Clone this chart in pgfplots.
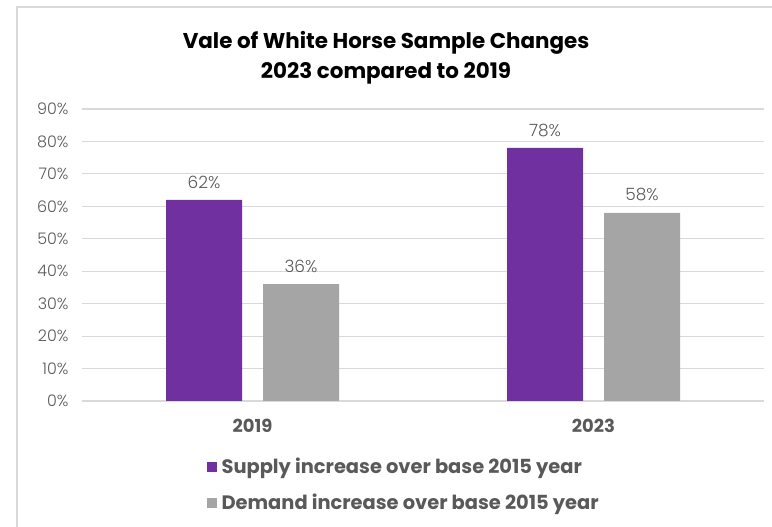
\documentclass[border=0pt]{standalone}
\usepackage{fontspec}
\setmainfont{Poppins}
\newfontfamily\lightfont{Poppins Light}
\usepackage{pgfplots}
\pgfplotsset{compat=1.18}
\definecolor{cpurple}{HTML}{7030A0}
\definecolor{cgray}{HTML}{A5A5A5}
\definecolor{ctext}{HTML}{595959}
\definecolor{cgrid}{HTML}{D9D9D9}
\begin{document}
\begin{tikzpicture}
\path[use as bounding box] (0bp,0bp) rectangle (772bp,527bp);
\draw[cgrid, line width=2bp] (17bp,0bp) -- (17bp,519.5bp) -- (772bp,519.5bp);
\node[font=\bfseries\fontsize{21.5}{25}\selectfont, text=black] at (386bp,484bp) {Vale of White Horse Sample Changes};
\node[font=\bfseries\fontsize{21.5}{25}\selectfont, text=black] at (386bp,454bp) {2023 compared to 2019};
\begin{axis}[
  at={(82bp,126bp)}, anchor=south west,
  scale only axis, width=682bp, height=292bp,
  ymin=0, ymax=90, xmin=-0.5, xmax=1.5,
  ybar=21bp, bar width=76bp,
  xtick={0,1}, xticklabels={2019,2023},
  ytick={0,10,...,90},
  /pgf/number format/assume math mode=true,
  yticklabel={\pgfmathprintnumber{\tick}\%},
  axis line style={draw=none},
  ymajorgrids, grid style={cgrid, line width=1.2bp},
  major tick length=0pt,
  yticklabel style={font=\lightfont\fontsize{16}{19}\selectfont, text=ctext, xshift=-10bp},
  xticklabel style={font=\bfseries\fontsize{18}{21}\selectfont, text=ctext, yshift=-15bp},
  nodes near coords={\pgfmathprintnumber{\pgfplotspointmeta}\%},
  every node near coord/.append style={font=\lightfont\fontsize{17}{20}\selectfont, text=ctext, yshift=8bp},
  legend style={at={(axis description cs:0.178,-0.182)}, anchor=north west, draw=none, fill=none,
    font=\bfseries\fontsize{19.5}{22}\selectfont, text=ctext, row sep=15bp},
  legend cell align=left,
  legend image code/.code={\fill[#1] (0bp,-5bp) rectangle (10bp,5bp); \path (13bp,0bp);},
]
\addplot[fill=cpurple, draw=none] coordinates {(0,62) (1,78)};
\addplot[fill=cgray, draw=none] coordinates {(0,36) (1,58)};
\legend{Supply increase over base 2015 year, Demand increase over base 2015 year}
\end{axis}
\end{tikzpicture}
\end{document}
